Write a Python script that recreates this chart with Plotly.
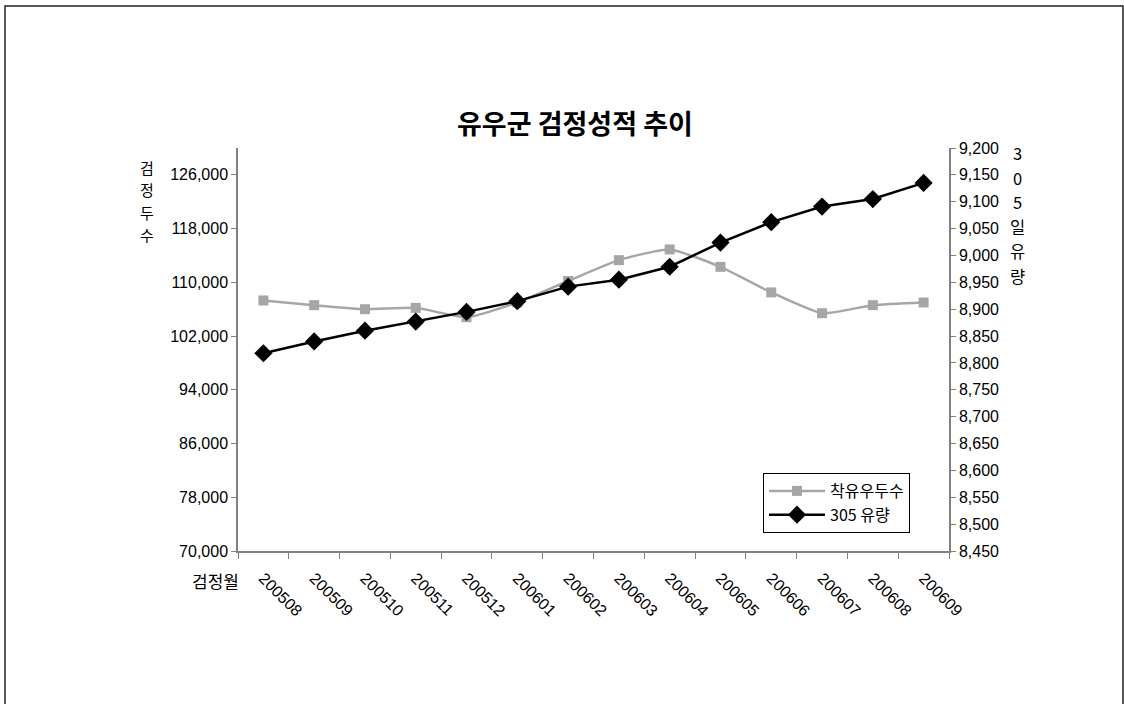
import plotly.graph_objects as go

months = ["200508", "200509", "200510", "200511", "200512", "200601", "200602",
          "200603", "200604", "200605", "200606", "200607", "200608", "200609"]
cows = [107300, 106600, 106000, 106200, 104800, 107000, 110200,
        113300, 114900, 112300, 108500, 105400, 106600, 107000]
milk305 = [8818, 8840, 8860, 8877, 8895, 8915, 8942,
           8955, 8979, 9024, 9062, 9091, 9105, 9135]

left_ticks = [70000, 78000, 86000, 94000, 102000, 110000, 118000, 126000]
right_ticks = [8450, 8500, 8550, 8600, 8650, 8700, 8750, 8800, 8850, 8900,
               8950, 9000, 9050, 9100, 9150, 9200]

title = "유우군 검정성적 추이"
left_title = "검정두수"
right_title = "305일유량"
x_title = "검정월"

W, H = 1124, 704
L, R, T, B = 238, 175, 148, 153
PW, PH = W - L - R, H - T - B


def px(x):
    return (x - L) / PW


def py(y):
    return (H - B - y) / PH


FONT = "Liberation Sans, Noto Sans CJK KR, sans-serif"
KFONT = "Noto Sans CJK KR, sans-serif"

fig = go.Figure()
fig.add_trace(go.Scatter(
    x=months, y=cows, name="착유우두수", mode="lines+markers",
    line=dict(color="#A6A6A6", width=2.5, shape="spline", smoothing=0.5),
    marker=dict(symbol="square", size=10, color="#A6A6A6"),
))
fig.add_trace(go.Scatter(
    x=months, y=milk305, name="305 유량", mode="lines+markers", yaxis="y2",
    line=dict(color="#000000", width=2.5),
    marker=dict(symbol="diamond", size=14, color="#000000"),
))

fig.update_layout(
    width=W, height=H,
    margin=dict(l=L, r=R, t=T, b=B),
    paper_bgcolor="white", plot_bgcolor="white",
    font=dict(family=FONT, size=16, color="#000000"),
    showlegend=True,
    legend=dict(x=px(763), y=py(473), xanchor="left", yanchor="top",
                bordercolor="#000000", borderwidth=1, bgcolor="white",
                font=dict(family=KFONT, size=16), tracegroupgap=0,
                itemwidth=56),
    xaxis=dict(type="category", range=[-0.5, len(months) - 0.5],
               showline=True, linecolor="#808080", linewidth=1.5,
               ticks="outside", tickson="boundaries", ticklen=6, tickcolor="#808080",
               tickangle=45, ticklabelstandoff=10, showgrid=False,
               tickfont=dict(size=16)),
    yaxis=dict(range=[70000, 130000], tickvals=left_ticks, tickformat=",d",
               showline=True, linecolor="#808080", linewidth=1.5,
               ticks="outside", ticklen=5, tickcolor="#808080",
               showgrid=False, zeroline=False, tickfont=dict(size=16)),
    yaxis2=dict(range=[8450, 9200], tickvals=right_ticks, tickformat=",d",
                overlaying="y", side="right",
                showline=True, linecolor="#808080", linewidth=1.5,
                ticks="outside", ticklen=5, tickcolor="#808080",
                showgrid=False, zeroline=False, tickfont=dict(size=16)),
)

fig.add_annotation(text="<b>" + title + "</b>", xref="paper", yref="paper",
                   x=px(575), y=py(123), xanchor="center", yanchor="middle",
                   showarrow=False, font=dict(family=KFONT, size=27))

# stacked (vertical) axis titles, one character per line
for i, ch in enumerate(left_title):
    fig.add_annotation(text=ch, xref="paper", yref="paper",
                       x=px(147), y=py(167 + 22.5 * i), xanchor="center", yanchor="middle",
                       showarrow=False, borderpad=0, font=dict(family=KFONT, size=15))
for i, ch in enumerate(right_title):
    fig.add_annotation(text=ch, xref="paper", yref="paper",
                       x=px(1017), y=py(153 + 24.5 * i), xanchor="center", yanchor="middle",
                       showarrow=False, borderpad=0, font=dict(family=KFONT, size=16.5))

fig.add_annotation(text=x_title, xref="paper", yref="paper",
                   x=px(215), y=py(580), xanchor="center", yanchor="middle",
                   showarrow=False, font=dict(family=KFONT, size=17))

fig.add_shape(type="rect", xref="paper", yref="paper",
              x0=px(5), x1=px(1123), y0=py(6), y1=py(708),
              line=dict(color="#222222", width=1.5))

fig.write_html("out.html", config={"displayModeBar": False},
               post_script="document.body.style.margin='0px';")
